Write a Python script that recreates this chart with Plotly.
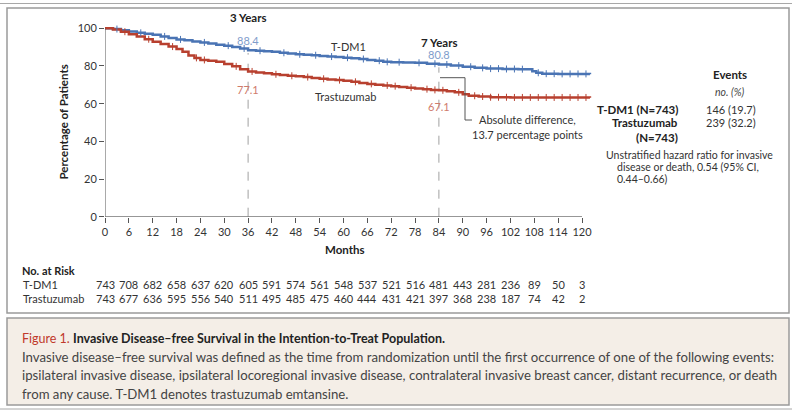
import numpy as np
import plotly.graph_objects as go

# ---------------- data ----------------
tdm1_months = [0, 2, 4, 6, 8, 10, 12, 14, 16, 18, 20, 22, 24, 26, 28, 30, 32, 34, 36, 38, 40, 42, 44, 46, 48,
               50, 52, 54, 56, 58, 60, 62, 64, 66, 68, 70, 72, 75, 78, 81, 84, 87, 90, 93, 96, 100, 104,
               106.5, 107.5, 108.5, 110, 114, 122]
tdm1_surv = [100, 99.6, 99.0, 98.3, 97.6, 97.1, 96.6, 95.7, 94.8, 94.1, 93.6, 93.0, 92.5, 91.9, 91.3, 90.8,
             90.1, 89.3, 88.4, 88.1, 87.8, 87.5, 87.0, 86.6, 86.2, 85.9, 85.7, 85.3, 85.0, 84.7, 84.4, 84.1,
             83.7, 83.2, 82.8, 82.2, 82.0, 81.9, 81.7, 81.2, 80.8, 80.2, 79.6, 79.0, 78.6, 78.4, 78.3,
             78.2, 77.2, 76.4, 75.9, 75.8, 75.6]

tras_months = [0, 2, 4, 6, 8, 10, 12, 14, 16, 18, 19.5, 21, 22.5, 24, 26, 28, 30, 32, 34, 36, 38, 40, 42, 44,
               46, 48, 50, 52, 54, 56, 58, 60, 62, 64, 66, 68, 70, 72, 74, 76, 78, 80, 82, 84, 86, 88, 90,
               91.5, 94, 97, 102, 122]
tras_surv = [100, 99.3, 98.2, 96.8, 95.6, 94.2, 92.9, 91.6, 90.3, 89.0, 87.5, 85.6, 84.3, 83.2, 82.8, 82.2,
             81.0, 79.8, 78.2, 77.1, 76.6, 76.1, 75.6, 75.2, 74.8, 74.5, 74.1, 73.6, 73.2, 72.8, 72.5, 72.1,
             71.6, 71.0, 70.5, 70.1, 69.7, 69.3, 68.9, 68.5, 68.1, 67.7, 67.3, 67.1, 66.6, 66.0, 65.0,
             64.2, 63.8, 63.4, 63.3, 63.2]

# censoring marks (months)
tdm1_censor = [3, 9, 15, 19, 25, 31, 35, 39, 45, 49, 53, 57, 61, 65, 69, 71, 74, 79, 83, 86, 89, 92, 95, 97,
               99, 101, 103, 105, 109, 111, 113, 115, 117, 119, 121]
tras_censor = [5, 11, 17, 23, 25, 33, 37, 43, 47, 51, 55, 59, 63, 67, 71, 73, 77, 81, 83, 85, 89, 93, 95, 97,
               99, 101, 103, 105, 107, 109, 111, 113, 115, 117, 119, 121]

tick_months = list(range(0, 121, 6))
risk_tdm1 = [743, 708, 682, 658, 637, 620, 605, 591, 574, 561, 548, 537, 521, 516, 481, 443, 281, 236, 89, 50, 3]
risk_tras = [743, 677, 636, 595, 556, 540, 511, 495, 485, 475, 460, 444, 431, 421, 397, 368, 238, 187, 74, 42, 2]

landmarks = [36, 84]
landmark_names = ["3 Years", "7 Years"]
landmark_tdm1 = [88.4, 80.8]
landmark_tras = [77.1, 67.1]

# ---------------- layout helpers ----------------
W, H = 800, 418
BLUE = "#4a74b4"
RED = "#b8402f"
BLUE_L = "#7f9dcb"
RED_L = "#cf7b6b"
TXT = "#333333"
FONT = "Lato"


def px(x):
    return x / W


def py(y):
    return 1 - y / H


def step_at(months, surv, t):
    idx = np.searchsorted(np.array(months), t, side="right") - 1
    return [surv[i] for i in idx]


X0, X120 = 105.0, 582.0
XMAX = 122.5
ppm = (X120 - X0) / 120
Y0, Y100 = 216.7, 28.3
YMAX = 102
ppv = (Y0 - Y100) / 100

fig = go.Figure()

fig.add_trace(go.Scatter(x=tdm1_months, y=tdm1_surv, mode="lines", line=dict(color=BLUE, width=2.5, shape="hv"),
                         hoverinfo="skip", showlegend=False))
fig.add_trace(go.Scatter(x=tras_months, y=tras_surv, mode="lines", line=dict(color=RED, width=2.5, shape="hv"),
                         hoverinfo="skip", showlegend=False))
fig.add_trace(go.Scatter(x=tdm1_censor, y=step_at(tdm1_months, tdm1_surv, tdm1_censor), mode="markers",
                         marker=dict(symbol="line-ns", size=5, line=dict(color=BLUE, width=1)),
                         hoverinfo="skip", showlegend=False))
fig.add_trace(go.Scatter(x=tras_censor, y=step_at(tras_months, tras_surv, tras_censor), mode="markers",
                         marker=dict(symbol="line-ns", size=5, line=dict(color=RED, width=1)),
                         hoverinfo="skip", showlegend=False))

shapes = []
# panel frame and caption box
shapes.append(dict(type="line", xref="paper", yref="paper", x0=px(0), x1=px(792), y0=py(3.5), y1=py(3.5),
                   line=dict(color="#a8a8a8", width=1)))
shapes.append(dict(type="rect", xref="paper", yref="paper", x0=px(7), x1=px(789), y0=py(8), y1=py(313),
                   line=dict(color="#9a9a9a", width=1.5), fillcolor="rgba(0,0,0,0)", layer="below"))
shapes.append(dict(type="rect", xref="paper", yref="paper", x0=px(7), x1=px(789), y0=py(318), y1=py(405),
                   line=dict(color="#9a9a9a", width=1.5), fillcolor="#f4eee7", layer="below"))
shapes.append(dict(type="line", xref="paper", yref="paper", x0=px(0), x1=px(792), y0=py(409), y1=py(409),
                   line=dict(color="#a8a8a8", width=1)))
# axis lines
shapes.append(dict(type="line", xref="x", yref="y", x0=0, x1=120, y0=0, y1=0, line=dict(color="#555", width=1)))
shapes.append(dict(type="line", xref="x", yref="y", x0=0, x1=0, y0=0, y1=100, line=dict(color="#555", width=1)))
# landmark dashed lines
for m, v in zip(landmarks, landmark_tdm1):
    shapes.append(dict(type="line", xref="x", yref="y", x0=m, x1=m, y0=0, y1=v - 1.5,
                       line=dict(color="#a0a0a0", width=1, dash="dash"), layer="below"))
# bracket for absolute difference
shapes.append(dict(type="path", xref="paper", yref="paper",
                   path=f"M {px(440)},{py(77.7)} L {px(465)},{py(77.7)} L {px(465)},{py(120)} L {px(472)},{py(120)}",
                   line=dict(color="#555", width=1)))

ann = []


def text(x, y, s, size=11, color=TXT, bold=False, italic=False, xanchor="center"):
    if bold:
        s = f"<b>{s}</b>"
    if italic:
        s = f"<i>{s}</i>"
    ann.append(dict(x=px(x), y=py(y), xref="paper", yref="paper", text=s, showarrow=False,
                    xanchor=xanchor, yanchor="middle", font=dict(size=size, color=color, family=FONT)))


# landmarks
for m, name, vb, vr in zip(landmarks, landmark_names, landmark_tdm1, landmark_tras):
    xp = X0 + m * ppm
    yb = Y0 - vb * ppv
    yr = Y0 - vr * ppv
    text(xp, yb - 33 if m == 36 else yb - 22, name, size=11.5, color="#222", bold=True)
    text(xp, yb - 10, f"{vb}", size=11, color=BLUE_L)
    text(xp, yr + 18 if m == 36 else yr + 16, f"{vr}", size=11, color=RED_L)

text(348, 46, "T-DM1", size=11)
text(345, 97, "Trastuzumab", size=11)
text(527, 120, "Absolute difference,", size=11)
text(527, 134, "13.7 percentage points", size=11)

# axis titles
text(345, 249, "Months", size=11.5, color="#222", bold=True)
ann.append(dict(x=px(63), y=py(122.5), xref="paper", yref="paper", text="<b>Percentage of Patients</b>",
                showarrow=False, textangle=-90, xanchor="center", yanchor="middle",
                font=dict(size=11.5, color="#222", family=FONT)))

# events block
text(730, 74, "Events", size=11.5, color="#222", bold=True)
text(729, 92, "no. (%)", size=10.5, color="#444", italic=True)
text(680, 110, "T-DM1 (N=743)", size=11.5, color="#222", bold=True, xanchor="right")
text(680, 123, "Trastuzumab", size=11.5, color="#222", bold=True, xanchor="right")
text(680, 137, "(N=743)", size=11.5, color="#222", bold=True, xanchor="right")
text(704, 110, "146 (19.7)", size=11, xanchor="left")
text(704, 123, "239 (32.2)", size=11, xanchor="left")
text(604, 155, "Unstratified hazard ratio for invasive", size=10.5, xanchor="left")
text(615, 167, "disease or death, 0.54 (95% CI,", size=10.5, xanchor="left")
text(615, 179, "0.44–0.66)", size=10.5, xanchor="left")

# risk table
text(20, 270, "No. at Risk", size=11, color="#222", bold=True, xanchor="left")
text(21, 284, "T-DM1", size=11, xanchor="left")
text(21, 298, "Trastuzumab", size=11, xanchor="left")
for m, a, b in zip(tick_months, risk_tdm1, risk_tras):
    xp = X0 + m * ppm
    text(xp, 284, str(a), size=11)
    text(xp, 298, str(b), size=11)

# caption
ann.append(dict(x=px(20), y=py(338), xref="paper", yref="paper", xanchor="left", yanchor="middle",
                showarrow=False,
                text="<span style='color:#c0392b'>Figure 1.</span> <b>Invasive Disease–free Survival in the Intention-to-Treat Population.</b>",
                font=dict(size=12.5, color="#222", family=FONT)))
cap_lines = [
    "Invasive disease–free survival was defined as the time from randomization until the first occurrence of one of the following events:",
    "ipsilateral invasive disease, ipsilateral locoregional invasive disease, contralateral invasive breast cancer, distant recurrence, or death",
    "from any cause. T-DM1 denotes trastuzumab emtansine.",
]
for i, line in enumerate(cap_lines):
    ann.append(dict(x=px(20), y=py(357 + 18.3 * i), xref="paper", yref="paper", xanchor="left", yanchor="middle",
                    showarrow=False, text=line, font=dict(size=13.2, color="#444", family=FONT)))

xd0 = px(X0)
xd1 = px(X0 + XMAX * ppm)
yd0 = py(Y0)
yd1 = py(Y0 - YMAX * ppv)

fig.update_layout(
    template="none",
    width=W, height=H, margin=dict(l=0, r=0, t=0, b=0, pad=0),
    paper_bgcolor="white", plot_bgcolor="white",
    font=dict(family=FONT, size=11, color=TXT),
    xaxis=dict(domain=[xd0, xd1], range=[0, XMAX], tickvals=tick_months, ticktext=[str(t) for t in tick_months],
               ticks="outside", ticklen=5, tickcolor="#555", showline=False, showgrid=False, zeroline=False,
               automargin=False, tickfont=dict(size=11, color=TXT, family=FONT)),
    yaxis=dict(domain=[yd0, yd1], range=[0, YMAX], tickvals=[0, 20, 40, 60, 80, 100],
               ticks="outside", ticklen=5, tickcolor="#555", showline=False, showgrid=False, zeroline=False,
               automargin=False, tickfont=dict(size=11, color=TXT, family=FONT)),
    shapes=shapes, annotations=ann,
)

fig.write_html("out.html", config={"displayModeBar": False},
               post_script="document.body.style.margin='0';")
